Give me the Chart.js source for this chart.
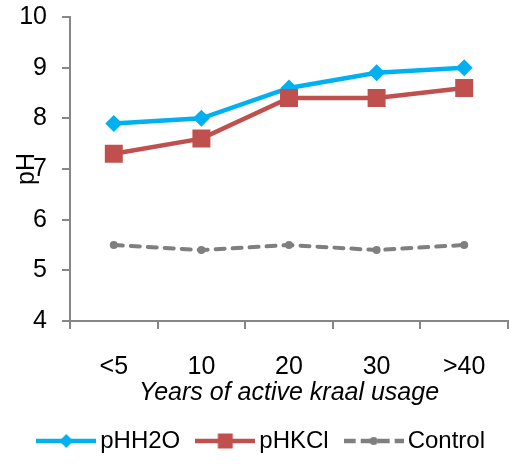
<!DOCTYPE html>
<html>
<head>
<meta charset="utf-8">
<script src="https://cdn.jsdelivr.net/npm/chart.js@4.4.0/dist/chart.umd.min.js"></script>
<style>
    html, body { margin: 0; padding: 0; background: #fff; }
    #ph-chart { display: block; }
</style>
</head>
<body>
<canvas id="ph-chart" width="510" height="465"></canvas>
<script>
// Data
const categories = ['<5', '10', '20', '30', '>40'];
const phH2O = [7.9, 8.0, 8.6, 8.9, 9.0];
const phKCl = [7.3, 7.6, 8.4, 8.4, 8.6];
const control = [5.5, 5.4, 5.5, 5.4, 5.5];
const seriesNames = ['pHH2O', 'pHKCl', 'Control'];

const BLUE = '#00B0F0';
const RED = '#C0504D';
const GREY = '#7F7F7F';
const AXIS = '#868686';
const FONT = 'Liberation Sans, Arial, sans-serif';

// Small canvas used as legend sample: line with the marker in the middle
function makeSample(color, marker, dashed) {
    const c = document.createElement('canvas');
    c.width = 60;
    c.height = 24;
    const ctx = c.getContext('2d');
    ctx.strokeStyle = color;
    ctx.fillStyle = color;
    ctx.lineWidth = 4.5;
    if (dashed) {
        ctx.setLineDash([12, 5]);
    }
    ctx.beginPath();
    ctx.moveTo(0, 12);
    ctx.lineTo(60, 12);
    ctx.stroke();
    ctx.setLineDash([]);
    ctx.beginPath();
    if (marker === 'diamond') {
        ctx.moveTo(30, 5);
        ctx.lineTo(37, 12);
        ctx.lineTo(30, 19);
        ctx.lineTo(23, 12);
        ctx.closePath();
    } else if (marker === 'square') {
        ctx.rect(22.5, 4.5, 15, 15);
    } else {
        ctx.arc(30, 12, 4, 0, Math.PI * 2);
    }
    ctx.fill();
    return c;
}

const samples = [
    makeSample(BLUE, 'diamond', false),
    makeSample(RED, 'square', false),
    makeSample(GREY, 'circle', true)
];

const ctx = document.getElementById('ph-chart').getContext('2d');
const phChart = new Chart(ctx, {
    type: 'line',
    data: {
        labels: categories,
        datasets: [
            {
                label: seriesNames[0],
                data: phH2O,
                borderColor: BLUE,
                backgroundColor: BLUE,
                borderWidth: 4.5,
                pointStyle: 'rectRot',
                pointRadius: 8.5,
                pointBorderWidth: 0,
                tension: 0,
                order: 2
            },
            {
                label: seriesNames[1],
                data: phKCl,
                borderColor: RED,
                backgroundColor: RED,
                borderWidth: 4.5,
                pointStyle: 'rect',
                pointRadius: 12.7,
                pointBorderWidth: 0,
                tension: 0,
                order: 1
            },
            {
                label: seriesNames[2],
                data: control,
                borderColor: GREY,
                backgroundColor: GREY,
                borderWidth: 4,
                borderDash: [9, 8],
                borderCapStyle: 'round',
                pointStyle: 'circle',
                pointRadius: 4,
                pointBorderWidth: 0,
                tension: 0,
                order: 3
            }
        ]
    },
    options: {
        responsive: false,
        animation: false,
        devicePixelRatio: 1,
        layout: {
            autoPadding: false,
            padding: { top: 17, right: 2, bottom: 2, left: 0 }
        },
        scales: {
            x: {
                offset: true,
                grid: {
                    offset: true,
                    drawOnChartArea: false,
                    drawTicks: true,
                    tickLength: 8,
                    color: AXIS,
                    lineWidth: 2
                },
                border: { color: AXIS, width: 2 },
                ticks: {
                    color: '#000',
                    padding: 23,
                    maxRotation: 0,
                    font: { family: FONT, size: 25 }
                },
                title: {
                    display: true,
                    text: 'Years of active kraal usage',
                    color: '#000',
                    padding: { top: 0, bottom: 0 },
                    font: { family: FONT, size: 25, style: 'italic', lineHeight: 1 }
                },
                afterFit: function (scale) {
                    scale.height = 85;
                    scale.paddingLeft = 0;
                    scale.paddingRight = 0;
                }
            },
            y: {
                min: 4,
                max: 10,
                grid: {
                    drawOnChartArea: false,
                    drawTicks: true,
                    tickLength: 8,
                    color: AXIS,
                    lineWidth: 2
                },
                border: { color: AXIS, width: 2 },
                ticks: {
                    stepSize: 1,
                    color: '#000',
                    padding: 15,
                    font: { family: FONT, size: 25 }
                },
                title: {
                    display: true,
                    text: 'pH',
                    color: '#000',
                    padding: { top: 15, bottom: 0 },
                    font: { family: FONT, size: 25, lineHeight: 1 }
                },
                afterFit: function (scale) {
                    scale.width = 70;
                    scale.paddingTop = 0;
                    scale.paddingBottom = 0;
                }
            }
        },
        plugins: {
            tooltip: { enabled: false },
            legend: {
                position: 'bottom',
                align: 'end',
                labels: {
                    usePointStyle: true,
                    pointStyleWidth: 44,
                    padding: 23,
                    color: '#000',
                    font: { family: FONT, size: 24 },
                    generateLabels: function (chart) {
                        return chart.data.datasets.map((ds, i) => ({
                            text: ds.label,
                            pointStyle: samples[i],
                            fillStyle: ds.borderColor,
                            strokeStyle: ds.borderColor,
                            lineWidth: 0,
                            hidden: false,
                            datasetIndex: i
                        }));
                    }
                }
            }
        }
    }
});
</script>
</body>
</html>
